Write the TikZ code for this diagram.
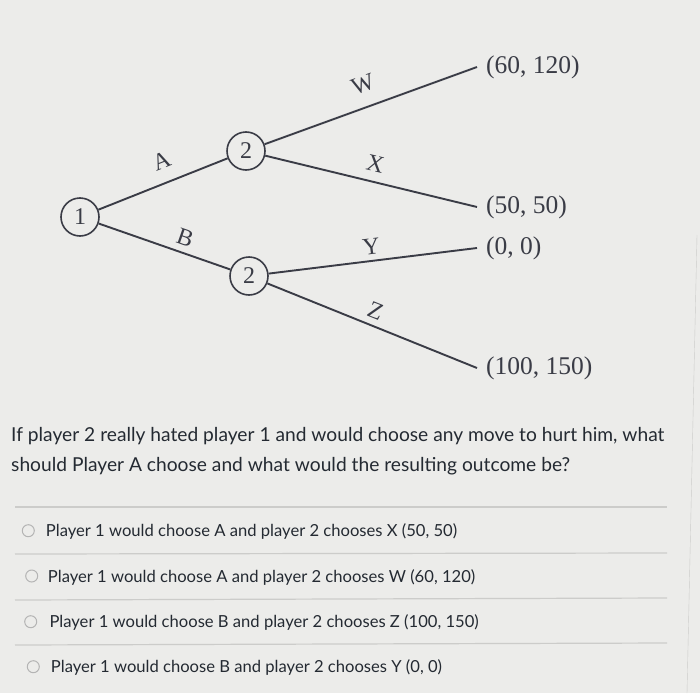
\documentclass[tikz,border=0pt]{standalone}
\usepackage{fontspec}
\setmainfont{Liberation Serif}
\newfontfamily\lato{Lato}
\usetikzlibrary{positioning}
\definecolor{bg}{RGB}{236,236,234}
\definecolor{ink}{RGB}{58,60,70}
\definecolor{qtext}{RGB}{36,42,50}
\definecolor{rule}{RGB}{204,204,202}
\definecolor{radio}{RGB}{180,180,180}

\begin{document}
\begin{tikzpicture}[x=1pt, y=-1pt]
\tikzstyle{player}=[draw=ink, circle, line width=1.6pt, minimum size=38pt, inner sep=0pt, text=ink, font=\fontsize{24}{24}\selectfont]
\tikzstyle{payoff}=[draw=none, inner sep=0pt, text=ink, font=\fontsize{25.5}{25.5}\selectfont]
\tikzstyle{move}=[sloped, inner sep=0pt, text=ink, font=\fontsize{24}{24}\selectfont]
\tikzstyle{branch}=[draw=ink, line width=1.9pt]
\tikzstyle{question}=[anchor=base west, inner sep=0pt, text=qtext, font=\lato\fontsize{19.2}{20}\selectfont]
\tikzstyle{choice}=[anchor=base west, inner sep=0pt, text=qtext, font=\lato\fontsize{16.6}{20}\selectfont]
\tikzstyle{rowsep}=[draw=rule, line width=1.2pt]
\tikzstyle{radiobtn}=[draw=radio, circle, line width=1pt, minimum size=12pt, inner sep=0pt]

\fill[bg] (0,0) rectangle (700,693);
\useasboundingbox (0,0) rectangle (700,693);

% game tree
\node[player] (P1) at (80,217) {1};
\node[player] (P2a) at (246,151) {2};
\node[player] (P2b) at (249,276) {2};
\coordinate (eW) at (477,67);
\coordinate (eX) at (477,207);
\coordinate (eY) at (477,248);
\coordinate (eZ) at (477,368);
\node[payoff, right=9pt of eW] (W) {(60, 120)};
\node[payoff, right=9pt of eX] (X) {(50, 50)};
\node[payoff, right=9pt of eY] (Y) {(0, 0)};
\node[payoff, right=9pt of eZ] (Z) {(100, 150)};
\path[branch]
(P1) edge node[move, above=13pt, pos=0.55] {A} (P2a)
(P1) edge node[move, above=6pt, pos=0.62] {B} (P2b)
(P2a) edge node[move, above=14pt, pos=0.5] {W} (eW)
(P2a) edge node[move, above=9pt, pos=0.5] {X} (eX)
(P2b) edge node[move, above=5pt, pos=0.5] {Y} (eY)
(P2b) edge node[move, above=6pt, pos=0.49] {Z} (eZ);

% question and answers
\node[question] (Q1) at (11,441.5) {If player 2 really hated player 1 and would choose any move to hurt him, what};
\node[question] (Q2) at (11,471.5) {should Player A choose and what would the resulting outcome be?};
\draw[rowsep] (15,507) -- (667,507);
\draw[rowsep] (15,554) -- (667,553);
\draw[rowsep] (15,600) -- (667,598);
\draw[rowsep] (15,645) -- (667,643);
\node[radiobtn] (R1) at (28.3,530.7) {};
\node[radiobtn] (R2) at (31.7,576) {};
\node[radiobtn] (R3) at (30.7,621.7) {};
\node[radiobtn] (R4) at (33.3,666.7) {};
\node[choice] (C1) at (45.7,536.7) {Player 1 would choose A and player 2 chooses X (50, 50)};
\node[choice] (C2) at (47.7,582.3) {Player 1 would choose A and player 2 chooses W (60, 120)};
\node[choice] (C3) at (49.3,627.7) {Player 1 would choose B and player 2 chooses Z (100, 150)};
\node[choice] (C4) at (50.7,672.7) {Player 1 would choose B and player 2 chooses Y (0, 0)};
\draw[draw=rule] (697,235) -- (687,693);
\end{tikzpicture}
\end{document}
